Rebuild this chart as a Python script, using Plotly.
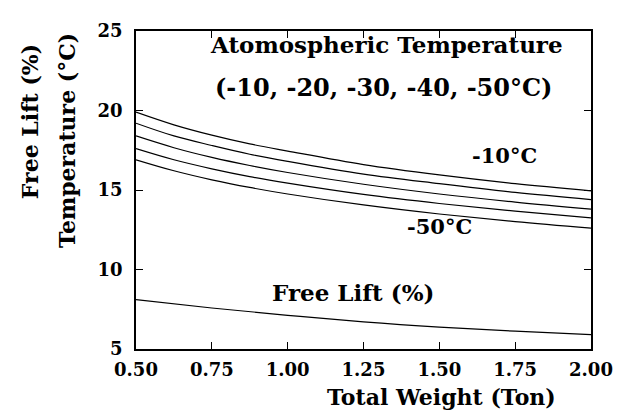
import plotly.graph_objects as go

# Total weight (ton) sample points
weight = [0.5, 0.625, 0.75, 0.875, 1.0, 1.25, 1.5, 1.75, 2.0]

# Temperature curves (deg C) for each atmospheric temperature
temp_m10 = [19.9, 19.1, 18.45, 17.9, 17.45, 16.6, 15.95, 15.4, 14.95]
temp_m20 = [19.2, 18.4, 17.8, 17.25, 16.8, 16.0, 15.4, 14.85, 14.4]
temp_m30 = [18.4, 17.66, 17.05, 16.54, 16.1, 15.36, 14.75, 14.24, 13.8]
temp_m40 = [17.6, 16.9, 16.33, 15.84, 15.43, 14.72, 14.15, 13.67, 13.25]
temp_m50 = [16.9, 16.21, 15.64, 15.16, 14.75, 14.06, 13.49, 13.01, 12.6]

# Free lift (%)
lift_weight = [0.5, 0.75, 1.0, 1.25, 1.5, 1.75, 2.0]
free_lift = [8.1, 7.58, 7.12, 6.7, 6.37, 6.12, 5.91]

x_ticks = [0.5, 0.75, 1.0, 1.25, 1.5, 1.75, 2.0]
x_ticklabels = ["0.50", "0.75", "1.00", "1.25", "1.50", "1.75", "2.00"]
y_ticks = [5, 10, 15, 20, 25]

FONT = "DejaVu Serif"
fig = go.Figure()

for name, ys in [("-10", temp_m10), ("-20", temp_m20), ("-30", temp_m30),
                 ("-40", temp_m40), ("-50", temp_m50)]:
    fig.add_trace(go.Scatter(x=weight, y=ys, mode="lines", name=name,
                             line=dict(color="black", width=1.2, shape="spline", smoothing=1.0)))

fig.add_trace(go.Scatter(x=lift_weight, y=free_lift, mode="lines", name="Free Lift",
                         line=dict(color="black", width=1.2, shape="spline", smoothing=1.0)))

axis_common = dict(showline=True, linecolor="black", linewidth=1.5, mirror="ticks",
                   ticks="inside", ticklen=7, tickwidth=1.2, tickcolor="black",
                   showgrid=False, zeroline=False,
                   tickfont=dict(family=FONT, size=18, color="black", weight="bold"))

fig.update_xaxes(range=[0.5, 2.0], tickvals=x_ticks, ticktext=x_ticklabels,
                 ticklabelstandoff=4, **axis_common)
fig.update_yaxes(range=[5, 25], tickvals=y_ticks, ticklabelstandoff=8, **axis_common)

def ann(text, x, y, size=23, angle=0):
    fig.add_annotation(text=text, x=x, y=y, xref="paper", yref="paper",
                       showarrow=False, textangle=angle,
                       xanchor="center", yanchor="middle",
                       font=dict(family=FONT, size=size, color="black", weight="bold"))

ann("Atomospheric Temperature", 0.55, 0.958)
ann("(-10, -20, -30, -40, -50°C)", 0.545, 0.823, size=24)
ann("-10°C", 0.81, 0.607, size=21)
ann("-50°C", 0.668, 0.384, size=21)
ann("Free Lift (%)", 0.477, 0.178)
ann("Total Weight (Ton)", 0.672, -0.15, size=22)
ann("Free Lift (%)", -0.234, 0.715, size=22, angle=-90)
ann("Temperature (°C)", -0.152, 0.657, size=22, angle=-90)

# The page body adds an 8px offset, so the figure is 8px smaller to fill the window.
fig.update_layout(width=617, height=407, showlegend=False,
                  plot_bgcolor="white", paper_bgcolor="white",
                  margin=dict(l=128, r=22, t=13, b=66))

fig.write_html("out.html")
